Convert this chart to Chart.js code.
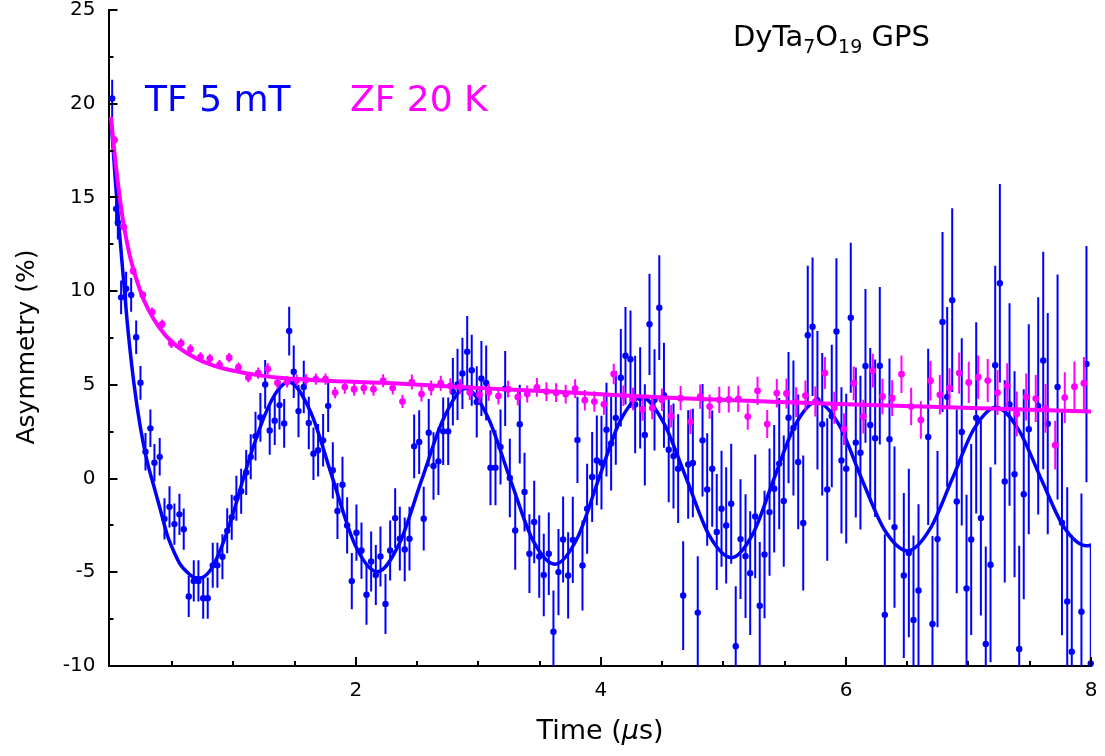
<!DOCTYPE html>
<html>
<head>
<meta charset="utf-8">
<script src="https://cdn.jsdelivr.net/npm/chart.js@4.4.1/dist/chart.umd.min.js"></script>
<style>
  html, body { margin: 0; padding: 0; background: #fff; }
  #wrap { width: 1105px; height: 756px; }
</style>
</head>
<body>
<div id="wrap"><canvas id="muChart" width="1105" height="756"></canvas></div>
<script>
// TF 5 mT data (time in µs, asymmetry in %, error in %)
const tfTime = [0.010,0.042,0.056,0.083,0.124,0.165,0.206,0.241,0.282,0.322,0.355,0.398,0.437,0.478,0.518,0.559,0.594,0.635,0.676,0.714,
  0.753,0.790,0.831,0.869,0.910,0.949,0.986,1.024,1.063,1.104,1.141,1.180,1.220,1.259,1.296,1.337,1.376,1.414,1.455,1.492,1.531,
  1.574,1.615,1.653,1.691,1.732,1.773,1.811,1.849,1.890,1.928,1.966,2.004,2.045,2.086,2.124,2.162,2.200,2.241,2.279,2.320,
  2.358,2.398,2.437,2.475,2.516,2.553,2.594,2.633,2.673,2.712,2.753,2.791,2.829,2.869,2.908,2.945,2.986,3.024,3.063,3.098,
  3.139,3.180,3.218,3.256,3.300,3.337,3.376,3.416,3.455,3.496,3.533,3.574,3.612,3.653,3.691,3.732,3.770,3.808,3.849,3.887,
  3.928,3.966,4.004,4.045,4.083,4.121,4.162,4.200,4.241,4.279,4.320,4.358,4.396,4.437,4.476,4.514,4.553,4.592,4.630,4.671,
  4.712,4.750,4.790,4.829,4.867,4.908,4.945,4.984,5.022,5.063,5.100,5.139,5.180,5.218,5.259,5.296,5.335,5.376,5.414,5.455,
  5.492,5.531,5.571,5.610,5.651,5.688,5.727,5.767,5.806,5.847,5.884,5.922,5.963,6.002,6.039,6.080,6.118,6.159,6.198,6.238,
  6.276,6.317,6.355,6.396,6.472,6.513,6.551,6.592,6.671,6.706,6.747,6.788,6.826,6.867,6.904,6.945,6.984,7.022,7.063,7.101,
  7.141,7.180,7.218,7.256,7.296,7.335,7.376,7.414,7.451,7.492,7.569,7.610,7.647,7.727,7.763,7.806,7.843,7.922,7.963,7.998]
const tfAsym = [20.28,14.39,13.66,9.67,10.13,9.80,7.54,5.11,1.43,2.68,0.85,1.16,-2.15,-1.51,-2.43,-1.91,-2.70,-6.29,-5.46,-5.46,
  -6.38,-6.38,-4.63,-4.63,-4.17,-2.79,-2.06,-1.05,-0.68,0.33,1.16,2.26,3.27,5.02,2.57,3.09,3.92,2.94,7.87,5.70,3.60,
  4.89,2.97,1.33,1.51,2.04,3.88,0.44,-1.73,-0.33,-2.50,-5.47,-2.89,-3.84,-6.20,-4.42,-5.14,-4.16,-6.69,-3.84,-2.11,
  -3.21,-3.78,-3.21,1.72,1.95,-2.14,2.45,0.67,0.92,2.52,2.52,4.63,5.02,5.61,6.77,5.78,4.09,5.34,5.10,0.58,
  0.58,1.69,4.80,0.03,-2.77,2.90,-0.72,-4.01,-2.32,-4.16,-5.14,-4.01,-8.17,-4.99,-3.25,-5.17,-3.27,2.06,-4.64,-1.61,
  0.08,0.97,0.85,2.61,1.87,3.24,5.38,6.55,6.37,3.95,4.30,2.33,8.23,4.20,9.12,4.45,1.54,1.20,0.53,-6.24,
  0.75,0.83,-7.15,2.04,-0.58,0.53,-2.85,-1.61,-2.50,-1.34,-8.95,-3.23,-4.14,-5.05,-2.02,-6.78,-4.05,-1.79,-0.54,0.80,
  -1.20,3.25,2.70,0.89,-2.37,7.65,8.10,4.18,2.90,-0.58,3.34,7.85,0.97,0.53,8.58,1.92,1.38,6.01,2.86,2.15,
  6.02,-7.27,2.10,-2.59,-5.17,-3.97,-7.54,-5.97,2.22,-7.76,-3.23,8.35,4.36,9.52,-1.22,2.49,-5.86,-3.25,3.24,-2.11,
  -8.82,-4.60,6.05,10.42,-0.15,3.95,0.23,-9.09,-0.84,2.63,3.88,6.30,2.93,4.89,-2.36,-6.56,-9.24,-7.10,6.11,-9.86]
const tfErr = [1.0,0.9,0.9,0.9,0.9,0.9,0.9,0.9,1.0,1.0,1.0,1.0,1.1,1.1,1.1,1.1,1.1,1.1,1.1,1.1,
  1.1,1.1,1.2,1.2,1.2,1.2,1.2,1.2,1.2,1.2,1.2,1.3,1.3,1.3,1.3,1.3,1.3,1.3,1.3,1.4,1.4,
  1.4,1.4,1.4,1.4,1.4,1.4,1.5,1.5,1.5,1.5,1.5,1.5,1.5,1.6,1.6,1.6,1.6,1.6,1.6,1.6,
  1.7,1.7,1.7,1.7,1.7,1.7,1.8,1.8,1.8,1.8,1.8,1.8,1.9,1.9,1.9,1.9,1.9,2.0,2.0,2.0,
  2.0,2.0,2.0,2.1,2.1,2.1,2.1,2.1,2.2,2.2,2.2,2.2,2.2,2.3,2.3,2.3,2.3,2.3,2.4,2.4,
  2.4,2.4,2.5,2.5,2.5,2.5,2.6,2.6,2.6,2.6,2.7,2.7,2.7,2.7,2.8,2.8,2.8,2.8,2.9,2.9,
  2.9,2.9,3.0,3.0,3.0,3.1,3.1,3.1,3.1,3.2,3.2,3.2,3.3,3.3,3.3,3.4,3.4,3.4,3.4,3.5,
  3.5,3.5,3.6,3.6,3.6,3.7,3.7,3.7,3.8,3.8,3.8,3.9,3.9,4.0,4.0,4.0,4.1,4.1,4.1,4.2,
  4.2,4.3,4.3,4.3,4.4,4.5,4.5,4.6,4.7,4.7,4.7,4.8,4.8,4.9,4.9,5.0,5.0,5.1,5.1,5.2,
  5.2,5.2,5.3,5.3,5.4,5.4,5.5,5.5,5.6,5.6,5.8,5.8,5.9,6.0,6.0,6.1,6.2,6.3,6.3,6.4]

// ZF 20 K data
const zfTime = [0.029,0.105,0.181,0.260,0.336,0.418,0.494,0.573,0.649,0.731,0.807,0.886,0.965,1.041,1.122,1.202,1.280,1.359,1.438,1.517,
  1.593,1.672,1.751,1.830,1.909,1.985,2.064,2.143,2.222,2.300,2.380,2.456,2.535,2.614,2.692,2.771,2.851,2.929,3.008,
  3.084,3.163,3.242,3.321,3.398,3.477,3.555,3.634,3.712,3.789,3.868,3.946,4.024,
  4.104,4.183,4.262,4.340,4.418,4.497,4.573,4.650,4.731,4.810,4.887,4.966,5.043,5.121,5.198,5.278,5.357,5.435,5.514,5.593,5.669,5.750,5.828,5.905,5.984,
  6.063,6.142,6.219,6.298,6.377,6.453,6.532,6.611,6.690,6.766,6.845,6.924,7.002,7.079,7.157,7.237,7.316,7.394,7.471,7.549,7.629,7.708,7.786,7.865,7.942]
const zfAsym = [18.07,13.42,11.08,9.80,8.88,8.24,7.22,7.22,6.91,6.49,6.40,6.08,6.45,5.94,5.39,5.63,5.85,5.11,5.16,5.25,
  5.27,5.31,5.31,4.59,4.88,4.77,4.83,4.77,5.22,4.83,4.11,5.15,4.51,4.83,5.09,4.95,4.91,4.59,4.47,
  4.60,4.40,4.77,4.35,4.51,4.87,4.64,4.58,4.51,4.80,4.18,4.11,3.96,
  5.58,4.42,4.25,3.69,3.76,4.20,3.33,4.29,3.03,4.37,3.84,4.20,4.22,4.25,3.31,4.68,2.91,4.56,4.54,4.07,4.43,4.11,5.63,3.78,2.64,
  5.08,3.31,5.76,4.38,4.29,5.57,3.84,3.13,5.22,4.47,4.83,5.63,5.13,5.41,5.23,4.59,4.95,3.45,4.35,4.27,3.74,1.78,4.32,4.90,5.09]
const zfErr = [0.2,0.2,0.2,0.2,0.25,0.25,0.25,0.25,0.25,0.25,0.25,0.25,0.25,0.25,0.25,0.3,0.3,0.3,0.3,0.3,
  0.3,0.3,0.3,0.3,0.35,0.35,0.35,0.35,0.35,0.35,0.35,0.4,0.4,0.4,0.4,0.4,0.4,0.4,0.45,
  0.45,0.45,0.45,0.45,0.45,0.5,0.5,0.5,0.5,0.5,0.55,0.55,0.55,
  0.55,0.55,0.6,0.6,0.6,0.6,0.6,0.65,0.65,0.65,0.65,0.7,0.7,0.7,0.7,0.75,0.75,0.75,0.8,0.8,0.8,0.8,0.85,0.85,0.85,
  0.9,0.9,0.9,0.95,0.95,1.0,1.0,1.0,1.05,1.05,1.05,1.1,1.1,1.15,1.15,1.2,1.2,1.2,1.25,1.25,1.3,1.3,1.35,1.35,1.4]

// fit curves
const tfFitTime = [0,0.037,0.078,0.132,0.187,0.241,0.296,0.35,0.405,0.459,0.514,0.568,0.623,0.677,0.72,0.81,0.90,1.0,1.085,1.17,
  1.27,1.36,1.45,1.63,1.81,1.99,2.175,2.355,2.535,2.715,2.895,3.075,3.26,3.445,3.625,3.805,3.98,4.155,4.33,4.51,
  4.70,4.885,5.065,5.24,5.41,5.585,5.76,5.945,6.13,6.32,6.505,6.685,6.865,7.045,7.225,7.41,7.595,7.78,7.965,8.0]
const tfFitAsym = [19.3,15.8,12.5,8.4,5.1,2.7,0.9,-0.4,-1.7,-3.0,-3.9,-4.6,-5.0,-5.28,-5.31,-4.9,-3.7,-1.8,0.1,1.85,
  3.6,4.7,5.15,3.55,0.0,-3.5,-4.97,-3.45,-0.1,3.2,4.8,3.3,-0.05,-3.3,-4.57,-3.2,-0.05,3.05,4.35,3.0,
  -0.05,-3.05,-4.22,-2.95,-0.05,2.85,4.1,2.85,-0.05,-2.8,-3.86,-2.7,-0.05,2.65,3.81,2.6,-0.05,-2.6,-3.59,-3.56]
const zfFitTime = [0,0.03,0.06,0.1,0.15,0.2,0.27,0.35,0.45,0.55,0.7,0.85,1.0,1.2,1.4,1.8,2.3,2.8,3.2,3.6,4.0,4.6,5.4,6.2,7.1,8.0]
const zfFitAsym = [19.3,17.3,15.6,13.7,12.0,10.8,9.5,8.5,7.6,7.0,6.4,6.0,5.75,5.52,5.36,5.2,5.08,4.9,4.77,4.64,4.5,4.3,4.1,3.93,3.75,3.58]

// axis ticks
const xTicks = [0.5,1,1.5,2,2.5,3,3.5,4,4.5,5,5.5,6,6.5,7,7.5,8]
const xLabels = [2,4,6,8]
const yTicks = [-10,-7.5,-5,-2.5,0,2.5,5,7.5,10,12.5,15,17.5,20,22.5,25]
const yLabels = [-10,-5,0,5,10,15,20,25]

const BLUE = '#0000ff', MAGENTA = '#ff00ff'
const FONT = 'DejaVu Sans'

const pts = (xs, ys) => xs.map((x, i) => ({ x: x, y: ys[i] }))

// vertical error bars, drawn under each dataset's points
const errorBars = {
    id: 'errorBars',
    beforeDatasetDraw(chart, args) {
        const ds = chart.data.datasets[args.index]
        if (!ds.errors) return
        const { ctx, chartArea: a, scales: { x, y } } = chart
        ctx.save()
        ctx.beginPath()
        ctx.rect(a.left, a.top, a.right - a.left, a.bottom - a.top)
        ctx.clip()
        ctx.strokeStyle = ds.backgroundColor
        ctx.lineWidth = 2
        ctx.beginPath()
        ds.data.forEach((p, i) => {
            const px = x.getPixelForValue(p.x)
            ctx.moveTo(px, y.getPixelForValue(p.y - ds.errors[i]))
            ctx.lineTo(px, y.getPixelForValue(p.y + ds.errors[i]))
        })
        ctx.stroke()
        ctx.restore()
    }
}

// inward ticks and all the free text
const decorations = {
    id: 'decorations',
    afterDraw(chart) {
        const { ctx, chartArea: a, scales: { x, y } } = chart
        ctx.save()
        ctx.strokeStyle = '#000'
        ctx.lineWidth = 2
        ctx.beginPath()
        xTicks.forEach(v => {
            const px = Math.round(x.getPixelForValue(v))
            const len = xLabels.includes(v) ? 9 : 5
            ctx.moveTo(px, a.bottom)
            ctx.lineTo(px, a.bottom - len)
        })
        yTicks.forEach(v => {
            const py = Math.round(y.getPixelForValue(v))
            const len = yLabels.includes(v) ? 9 : 5
            ctx.moveTo(a.left, py)
            ctx.lineTo(a.left + len, py)
        })
        ctx.stroke()

        // title with subscripts
        ctx.fillStyle = '#000'
        ctx.textBaseline = 'alphabetic'
        let cx = 733
        const base = 46
        const parts = [['DyTa', 29, 0], ['7', 19, 7], ['O', 29, 0], ['19', 19, 7], [' GPS', 29, 0]]
        parts.forEach(([s, size, dy]) => {
            ctx.font = size + 'px ' + FONT
            ctx.fillText(s, cx, base + dy)
            cx += ctx.measureText(s).width
        })

        ctx.font = '36px ' + FONT
        ctx.fillStyle = BLUE
        ctx.fillText('TF 5 mT', 145, 111)
        ctx.fillStyle = MAGENTA
        ctx.fillText('ZF 20 K', 350, 111)

        // x axis title, italic mu
        ctx.fillStyle = '#000'
        const segs = [['Time (', ''], ['\u03bc', 'italic '], ['s)', '']]
        let total = 0
        segs.forEach(([s, st]) => { ctx.font = st + '27px ' + FONT; total += ctx.measureText(s).width })
        let tx = 600 - total / 2
        segs.forEach(([s, st]) => {
            ctx.font = st + '27px ' + FONT
            ctx.fillText(s, tx, 739)
            tx += ctx.measureText(s).width
        })

        // y axis title
        ctx.translate(27, 347)
        ctx.rotate(-Math.PI / 2)
        ctx.font = '25px ' + FONT
        ctx.textAlign = 'center'
        ctx.textBaseline = 'middle'
        ctx.fillText('Asymmetry (%)', 0, 0)
        ctx.restore()
    }
}

const config = {
    type: 'scatter',
    data: {
        datasets: [
            {
                type: 'line', data: pts(zfFitTime, zfFitAsym),
                borderColor: MAGENTA, borderWidth: 4, pointRadius: 0,
                cubicInterpolationMode: 'monotone', fill: false
            },
            {
                data: pts(zfTime, zfAsym), errors: zfErr,
                backgroundColor: MAGENTA, borderWidth: 0, pointRadius: 3.4, clip: false
            },
            {
                type: 'line', data: pts(tfFitTime, tfFitAsym),
                borderColor: BLUE, borderWidth: 3.5, pointRadius: 0,
                cubicInterpolationMode: 'monotone', fill: false
            },
            {
                data: pts(tfTime, tfAsym), errors: tfErr,
                backgroundColor: BLUE, borderWidth: 0, pointRadius: 3.2, clip: false
            }
        ]
    },
    options: {
        responsive: false,
        devicePixelRatio: 1,
        animation: false,
        events: [],
        layout: { padding: { top: 10, right: 14, left: 0, bottom: 0 } },
        plugins: { legend: { display: false }, tooltip: { enabled: false } },
        scales: {
            x: {
                type: 'linear', min: -0.02, max: 8,
                afterBuildTicks: s => { s.ticks = xTicks.map(v => ({ value: v })) },
                afterFit: s => { s.height = 90; s.paddingLeft = 0; s.paddingRight = 0 },
                grid: { display: false, drawTicks: false },
                border: { display: true, color: '#000', width: 2 },
                ticks: {
                    autoSkip: false, maxRotation: 0, padding: 13, color: '#000',
                    font: { family: FONT, size: 20 },
                    callback: v => xLabels.includes(v) ? String(v) : ''
                }
            },
            y: {
                type: 'linear', min: -10, max: 25,
                afterBuildTicks: s => { s.ticks = yTicks.map(v => ({ value: v })) },
                afterFit: s => { s.width = 108.5; s.paddingTop = 0; s.paddingBottom = 0 },
                grid: { display: false, drawTicks: false },
                border: { display: true, color: '#000', width: 2 },
                ticks: {
                    autoSkip: false, padding: 13, color: '#000',
                    font: { family: FONT, size: 20 },
                    callback: v => yLabels.includes(v) ? String(v) : ''
                }
            }
        }
    },
    plugins: [errorBars, decorations]
}

new Chart(document.getElementById('muChart'), config)
</script>
</body>
</html>
